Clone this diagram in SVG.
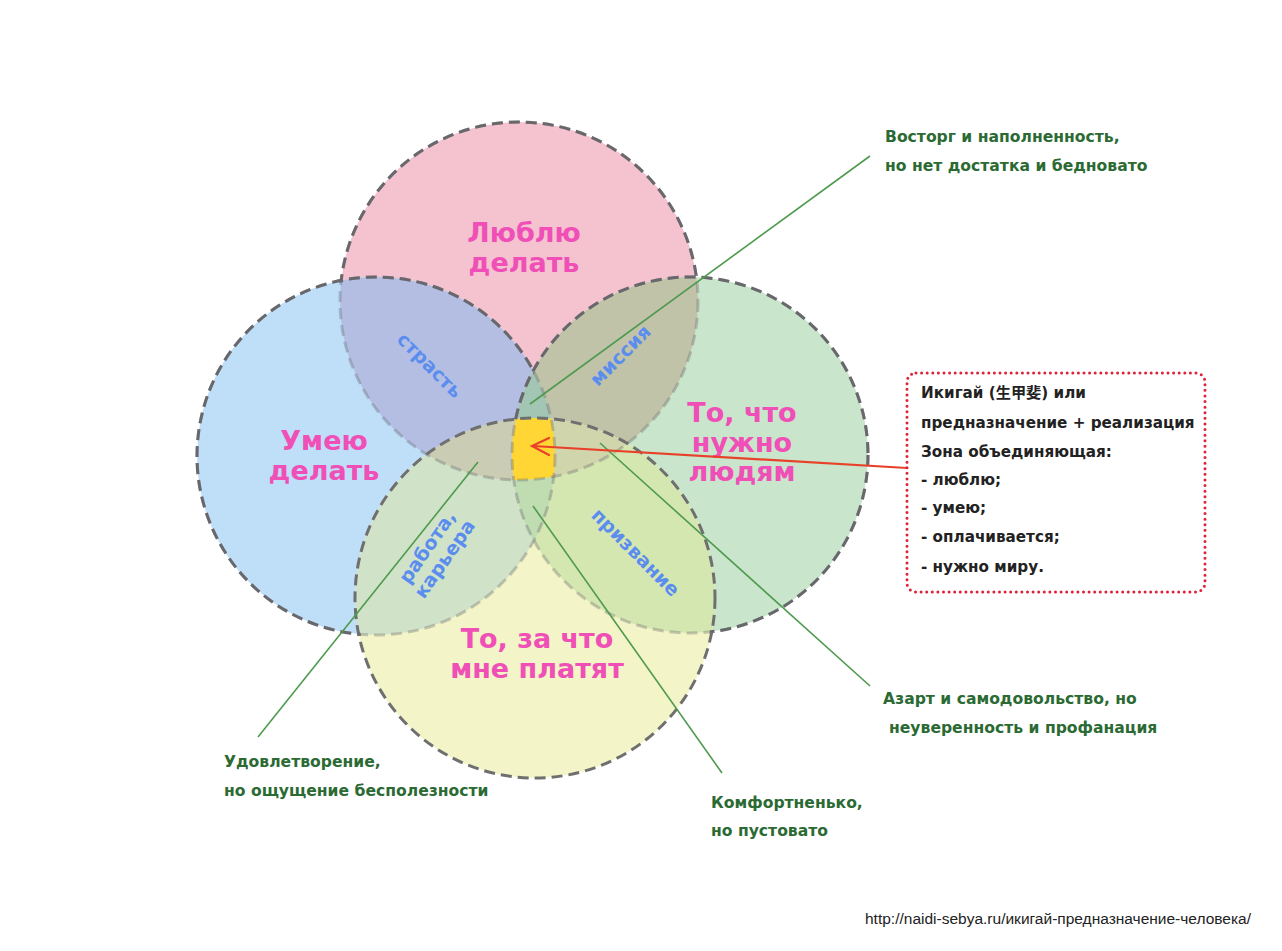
<svg xmlns="http://www.w3.org/2000/svg" width="1282" height="951" viewBox="0 0 1282 951">
<style>
.big{font-family:"DejaVu Sans","Noto Sans",sans-serif;font-weight:bold;font-size:27px;fill:#EF4FB6;text-anchor:middle}
.blu{font-family:"DejaVu Sans","Noto Sans",sans-serif;font-weight:bold;font-size:19px;fill:#5B8DEF;text-anchor:middle}
.ann{font-family:"DejaVu Sans","Noto Sans",sans-serif;font-weight:bold;font-size:15.6px;fill:#2B6A33}
.box{font-family:"DejaVu Sans","Noto Sans CJK JP",sans-serif;font-weight:bold;font-size:15.2px;fill:#222}
.url{font-family:"Liberation Sans",Arial,sans-serif;font-size:15.5px;fill:#222}
.dash{fill:none;stroke:#67676c;stroke-width:3;stroke-dasharray:11 6}
.faint{opacity:0.35}
.lead{stroke:#4E9A4E;stroke-width:1.6;fill:none}
</style>
<defs>
<clipPath id="cP"><circle cx="519" cy="301" r="179"/></clipPath>
<clipPath id="cB"><circle cx="376" cy="456" r="179"/></clipPath>
<clipPath id="cG"><circle cx="690" cy="455" r="178"/></clipPath>
<clipPath id="cY"><circle cx="535" cy="598" r="180"/></clipPath>
<mask id="mBGY"><rect width="1282" height="951" fill="#fff"/><circle cx="376" cy="456" r="177" fill="#000"/><circle cx="690" cy="455" r="176" fill="#000"/><circle cx="535" cy="598" r="178" fill="#000"/></mask>
<mask id="mGY"><rect width="1282" height="951" fill="#fff"/><circle cx="690" cy="455" r="176" fill="#000"/><circle cx="535" cy="598" r="178" fill="#000"/></mask>
<mask id="mY"><rect width="1282" height="951" fill="#fff"/><circle cx="535" cy="598" r="178" fill="#000"/></mask>
</defs>
<rect width="1282" height="951" fill="#fff"/>
<g id="fills">
<circle cx="519" cy="301" r="179" fill="#F4C3CF"/>
<circle cx="376" cy="456" r="179" fill="#BFDEF8"/>
<circle cx="690" cy="455" r="178" fill="#C9E5CB"/>
<circle cx="535" cy="598" r="180" fill="#F3F4C7"/>
<g clip-path="url(#cP)"><circle cx="376" cy="456" r="179" fill="#B4BEE3"/></g>
<g clip-path="url(#cP)"><circle cx="690" cy="455" r="178" fill="#C1C3A9"/></g>
<g clip-path="url(#cB)"><circle cx="535" cy="598" r="180" fill="#D0E3C8"/></g>
<g clip-path="url(#cG)"><circle cx="535" cy="598" r="180" fill="#D5E7B0"/></g>
<g clip-path="url(#cP)"><circle cx="535" cy="598" r="180" fill="#CFCFB3"/></g>
<g clip-path="url(#cB)"><circle cx="690" cy="455" r="178" fill="#B5D6C0"/></g>
<g clip-path="url(#cP)"><g clip-path="url(#cB)"><circle cx="690" cy="455" r="178" fill="#A3C5B3"/></g></g>
<g clip-path="url(#cP)"><g clip-path="url(#cB)"><circle cx="535" cy="598" r="180" fill="#CBCCB4"/></g></g>
<g clip-path="url(#cP)"><g clip-path="url(#cG)"><circle cx="535" cy="598" r="180" fill="#D1D5AC"/></g></g>
<g clip-path="url(#cB)"><g clip-path="url(#cG)"><circle cx="535" cy="598" r="180" fill="#C0DCB1"/></g></g>
<g clip-path="url(#cP)"><g clip-path="url(#cB)"><g clip-path="url(#cG)"><circle cx="535" cy="598" r="180" fill="#FFD633"/></g></g></g>
</g>
<g id="love">
<circle class="dash faint" cx="519" cy="301" r="179"/>
<circle class="dash" cx="519" cy="301" r="179" mask="url(#mBGY)"/>
<text class="big" x="524" y="242">Люблю</text>
<text class="big" x="524" y="272">делать</text>
</g>
<g id="skill">
<circle class="dash faint" cx="376" cy="456" r="179"/>
<circle class="dash" cx="376" cy="456" r="179" mask="url(#mGY)"/>
<text class="big" x="324" y="450">Умею</text>
<text class="big" x="324" y="480">делать</text>
</g>
<g id="need">
<circle class="dash faint" cx="690" cy="455" r="178"/>
<circle class="dash" cx="690" cy="455" r="178" mask="url(#mY)"/>
<text class="big" x="742" y="422">То, что</text>
<text class="big" x="742" y="452">нужно</text>
<text class="big" x="742" y="481">людям</text>
</g>
<g id="paid">
<circle class="dash" cx="535" cy="598" r="180" style="stroke:#6f6f70"/>
<text class="big" x="537" y="648">То, за что</text>
<text class="big" x="537" y="678">мне платят</text>
</g>
<g id="zones">
<text class="blu" transform="translate(430,365) rotate(45)" y="7">страсть</text>
<text class="blu" transform="translate(620,355) rotate(-45)" y="7">миссия</text>
<g transform="translate(436,553) rotate(-55)"><text class="blu" y="-4">работа,</text><text class="blu" y="17">карьера</text></g>
<text class="blu" transform="translate(636,552) rotate(45)" y="7">призвание</text>
</g>
<g id="connectors">
<line class="lead" x1="530" y1="404" x2="870" y2="156"/>
<line class="lead" x1="600" y1="443" x2="870" y2="686"/>
<line class="lead" x1="533" y1="506" x2="722" y2="773"/>
<line class="lead" x1="478" y1="462" x2="258" y2="737"/>
<g stroke="#E8402A" stroke-width="2.2" fill="none" stroke-linecap="round">
<line x1="907" y1="468" x2="533" y2="446"/>
<polyline points="549,438 532,446 549,455"/>
</g>
</g>
<g id="ikigai-box">
<rect x="907" y="373" width="298" height="219" rx="9" fill="none" stroke="#E0213A" stroke-width="3" stroke-dasharray="0 5.6" stroke-linecap="round"/>
<text class="box" x="921" y="398">Икигай (生甲斐) или</text>
<text class="box" x="921" y="428">предназначение + реализация</text>
<text class="box" x="921" y="457">Зона объединяющая:</text>
<text class="box" x="921" y="485">- люблю;</text>
<text class="box" x="921" y="513">- умею;</text>
<text class="box" x="921" y="542">- оплачивается;</text>
<text class="box" x="921" y="572">- нужно миру.</text>
</g>
<g id="note-delight">
<text class="ann" x="885" y="142">Восторг и наполненность,</text>
<text class="ann" x="885" y="171">но нет достатка и бедновато</text>
</g>
<g id="note-azart">
<text class="ann" x="883" y="704">Азарт и самодовольство, но</text>
<text class="ann" x="889" y="733">неуверенность и профанация</text>
</g>
<g id="note-satisf">
<text class="ann" x="224" y="767">Удовлетворение,</text>
<text class="ann" x="224" y="796">но ощущение бесполезности</text>
</g>
<g id="note-comfort">
<text class="ann" x="711" y="808">Комфортненько,</text>
<text class="ann" x="711" y="836">но пустовато</text>
</g>
<text class="url" x="865" y="924">http://naidi-sebya.ru/икигай-предназначение-человека/</text>
</svg>
